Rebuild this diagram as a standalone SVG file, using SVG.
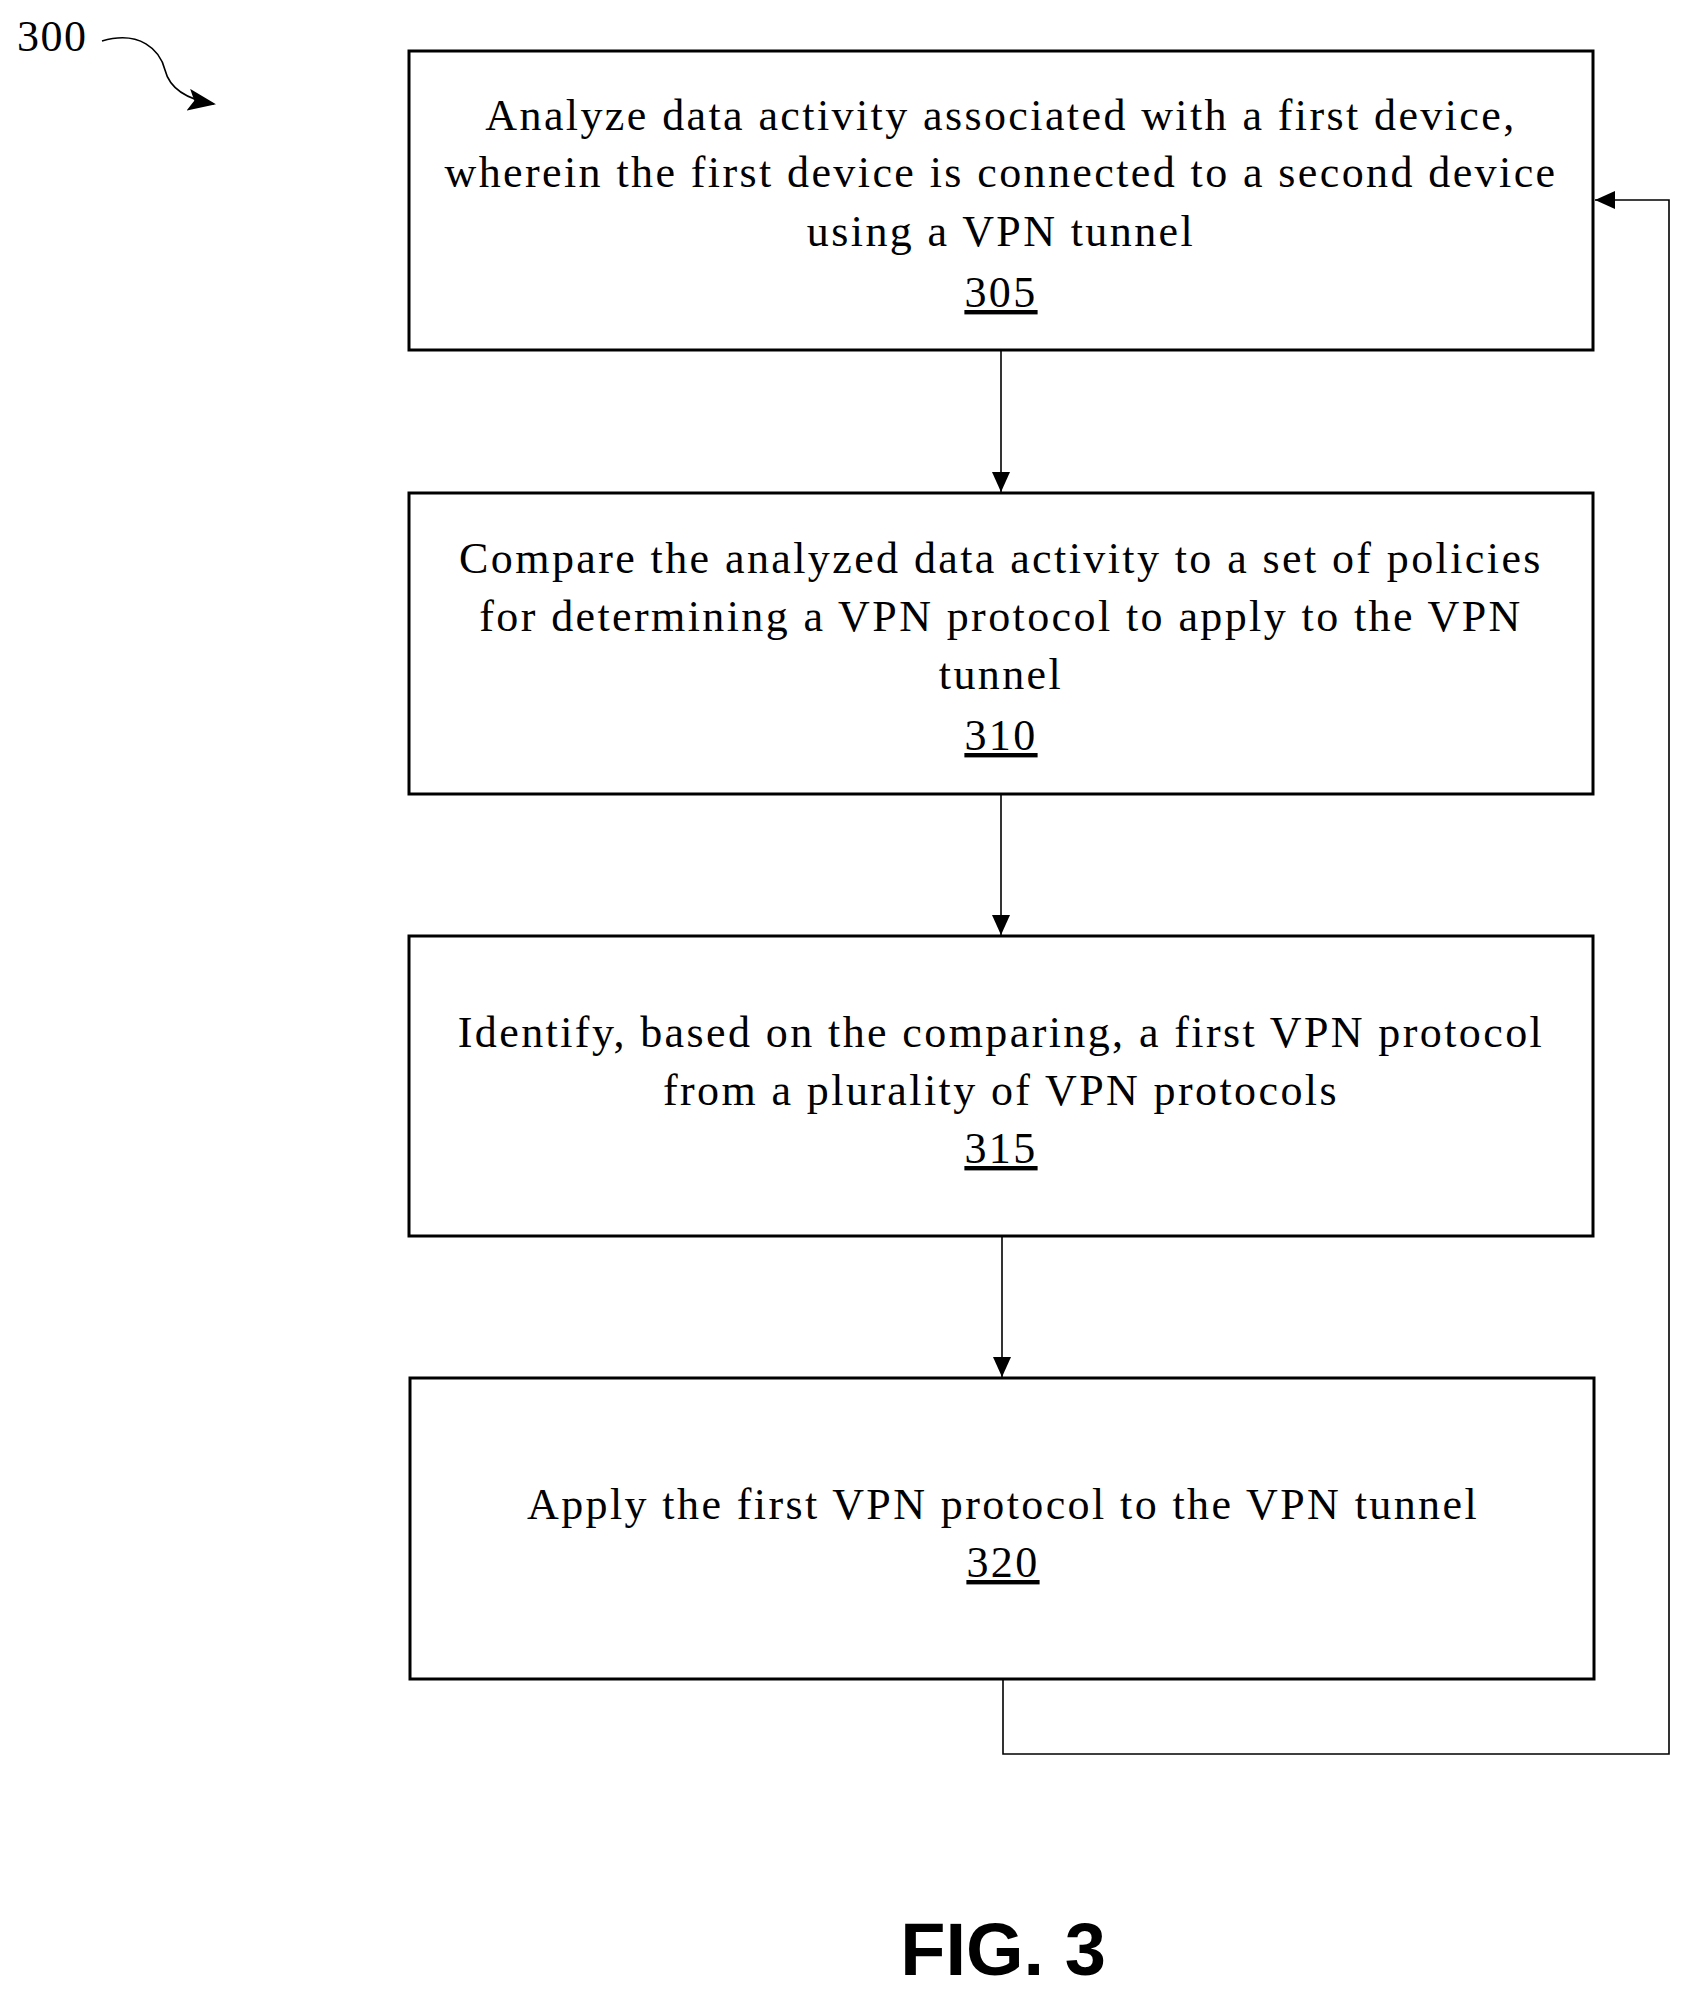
<svg xmlns="http://www.w3.org/2000/svg" width="1688" height="1995" viewBox="0 0 1688 1995">
<style>
.box{fill:#fff;stroke:#000;stroke-width:3}
.t{font-family:"Liberation Serif",serif;font-size:44px;letter-spacing:2.4px;text-anchor:middle;fill:#000}
.c{fill:none;stroke:#000;stroke-width:1.6}
</style>
<defs><marker id="a" markerWidth="20" markerHeight="20" refX="20" refY="10" orient="auto" markerUnits="userSpaceOnUse"><path d="M0,1 L20,10 L0,19 Z" fill="#000"/></marker>
<marker id="b" markerWidth="28" markerHeight="22" refX="26" refY="11" orient="auto" markerUnits="userSpaceOnUse"><path d="M0,0 L28,11 L0,22 L6,11 Z" fill="#000"/></marker></defs>
<rect width="1688" height="1995" fill="#fff"/>
<g id="label300"><text x="17" y="51" font-family="Liberation Serif,serif" font-size="44" letter-spacing="1.5">300</text>
<path d="M102,41 C140,30 160,50 165,70 C170,90 190,100 214,104" fill="none" stroke="#000" stroke-width="1.6" marker-end="url(#b)"/></g>
<g id="n305"><rect class="box" x="409" y="51" width="1184" height="299"/>
<text class="t" x="1001" y="130">Analyze data activity associated with a first device,</text>
<text class="t" x="1001" y="187">wherein the first device is connected to a second device</text>
<text class="t" x="1001" y="246">using a VPN tunnel</text>
<text class="t" x="1001" y="307" text-decoration="underline">305</text></g>
<g id="n310"><rect class="box" x="409" y="493" width="1184" height="301"/>
<text class="t" x="1001" y="573">Compare the analyzed data activity to a set of policies</text>
<text class="t" x="1001" y="631">for determining a VPN protocol to apply to the VPN</text>
<text class="t" x="1001" y="689">tunnel</text>
<text class="t" x="1001" y="750" text-decoration="underline">310</text></g>
<g id="n315"><rect class="box" x="409" y="936" width="1184" height="300"/>
<text class="t" x="1001" y="1047">Identify, based on the comparing, a first VPN protocol</text>
<text class="t" x="1001" y="1105">from a plurality of VPN protocols</text>
<text class="t" x="1001" y="1163" text-decoration="underline">315</text></g>
<g id="n320"><rect class="box" x="410" y="1378" width="1184" height="301"/>
<text class="t" x="1003" y="1519">Apply the first VPN protocol to the VPN tunnel</text>
<text class="t" x="1003" y="1577" text-decoration="underline">320</text></g>
<g id="connectors">
<path class="c" d="M1001,350 V492" marker-end="url(#a)"/>
<path class="c" d="M1001,794 V935" marker-end="url(#a)"/>
<path class="c" d="M1002,1236 V1377" marker-end="url(#a)"/>
<path class="c" d="M1003,1679 V1754 H1669 V200 H1595" marker-end="url(#a)"/>
</g>
<text x="1003" y="1975" font-family="Liberation Sans,sans-serif" font-weight="bold" font-size="74" text-anchor="middle">FIG. 3</text>
</svg>
